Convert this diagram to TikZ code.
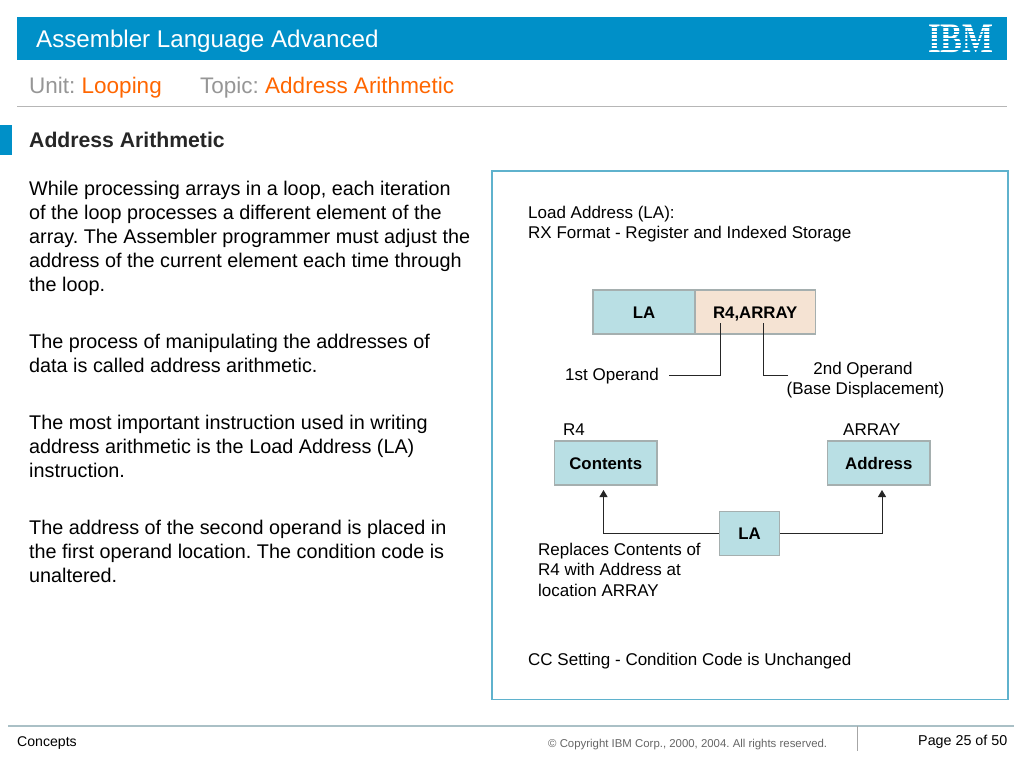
\documentclass[tikz,border=0pt]{standalone}
\usepackage{fontspec}
\usepackage{xcolor}
\usepackage{tikz}
\usetikzlibrary{backgrounds}
\usetikzlibrary{arrows.meta}
\setmainfont{Liberation Sans}
\newfontfamily\logofont{Liberation Serif}
\AtBeginDocument{\frenchspacing}
\pgfdeclarelayer{edgelayer}
\pgfdeclarelayer{nodelayer}
\pgfsetlayers{background,nodelayer,edgelayer,main}
\definecolor{barblue}{RGB}{0,144,200}
\definecolor{framec}{RGB}{95,178,205}
\definecolor{greyc}{RGB}{150,150,150}
\definecolor{orangec}{RGB}{255,102,0}
\definecolor{boxblue}{RGB}{185,223,228}
\definecolor{boxtan}{RGB}{245,227,211}
\definecolor{boxline}{RGB}{165,175,175}
\definecolor{footc}{RGB}{170,192,198}
\tikzstyle{none}=[inner sep=0mm]
\tikzstyle{slidetext}=[inner sep=0mm,anchor=base west,text=black]
\tikzstyle{bodytext}=[slidetext,anchor=north west,align=left,font=\fontsize{19.8}{24}\selectfont]
\tikzstyle{small}=[slidetext,align=left,font=\fontsize{17}{20.3}\selectfont,text=black]
\tikzstyle{smallblock}=[small,anchor=north west]
\tikzstyle{cn}=[draw=boxline,line width=1.2pt,fill=boxblue,minimum height=44pt,inner sep=0mm,text height=12pt,text depth=0pt,font=\fontsize{16.8}{19}\selectfont\bfseries,text=black]
\tikzstyle{tn}=[cn,fill=boxtan]
\tikzstyle{edge}=[line width=1pt,black!85]
\tikzstyle{diredge}=[edge,-{Triangle[length=7pt,width=8pt]}]
\begin{document}
\begin{tikzpicture}[x=1pt,y=-1pt]
	\useasboundingbox (0,0) rectangle (1024,768);
	\begin{pgfonlayer}{background}
		\fill [white] (0,0) rectangle (1024,768);
		\fill [barblue] (17,17) rectangle (1007,60);
		\fill [barblue] (0,125) rectangle (11.5,155);
		\draw [greyc!70, line width=1pt] (17,106.5) -- (1007,106.5);
		\draw [framec, line width=1.4pt] (491.8,171) rectangle (1008,699.5);
		\draw [footc, line width=1.5pt] (8,726) -- (1014,726);
		\draw [black!35, line width=1.5pt] (857.5,726) -- (857.5,751);
	\end{pgfonlayer}
	\begin{pgfonlayer}{nodelayer}
		\node [style=slidetext, text=white, font=\fontsize{24.15}{28}\selectfont] (0) at (36, 48) {Assembler Language Advanced};
		\node [style=slidetext, text=white, font=\fontsize{42}{42}\logofont\bfseries, anchor=base, xscale=0.78] (1) at (961, 52.5) {IBM};
		\node [style=slidetext, font=\fontsize{22.5}{27}\selectfont] (2) at (29, 93) {\textcolor{greyc}{Unit:} \textcolor{orangec}{Looping}};
		\node [style=slidetext, font=\fontsize{22.5}{27}\selectfont] (3) at (200, 93) {\textcolor{greyc}{Topic:} \textcolor{orangec}{Address Arithmetic}};
		\node [style=slidetext, text=black!85, font=\fontsize{21.2}{25}\selectfont\bfseries] (4) at (29, 147) {Address Arithmetic};
		\node [style=bodytext] (5) at (29, 181) {While processing arrays in a loop, each iteration\\of the loop processes a different element of the\\array. The Assembler programmer must adjust the\\address of the current element each time through\\the loop.};
		\node [style=bodytext] (6) at (29, 334) {The process of manipulating the addresses of\\data is called address arithmetic.};
		\node [style=bodytext] (7) at (29, 415) {The most important instruction used in writing\\address arithmetic is the Load Address (LA)\\instruction.};
		\node [style=bodytext] (8) at (29, 520) {The address of the second operand is placed in\\the first operand location. The condition code is\\unaltered.};
		\node [style=smallblock] (9) at (528, 206) {Load Address (LA):\\RX Format - Register and Indexed Storage};
		\node [style=cn, minimum width=102pt] (10) at (644, 312) {LA};
		\node [style=tn, minimum width=120.5pt] (11) at (755.25, 312) {R4,ARRAY};
		\node [style=small] (12) at (565, 380) {1st Operand};
		\node [style=small, anchor=north, align=center] (13) at (865.5, 362) {2nd Operand\hspace*{5pt}\\(Base Displacement)};
		\node [style=small] (14) at (563, 435) {R4};
		\node [style=small] (15) at (843, 435) {ARRAY};
		\node [style=cn, minimum width=102.5pt] (16) at (605.75, 463) {Contents};
		\node [style=cn, minimum width=102.5pt] (17) at (878.75, 463) {Address};
		\node [style=cn, minimum width=60pt] (18) at (749.5, 533.5) {LA};
		\node [style=smallblock] (19) at (538, 543) {Replaces Contents of\\R4 with Address at\\location ARRAY};
		\node [style=small] (20) at (528, 665) {CC Setting - Condition Code is Unchanged};
		\node [style=slidetext, text=black, font=\fontsize{14.1}{16}\selectfont] (21) at (17, 746) {Concepts};
		\node [style=slidetext, text=black!60, font=\fontsize{11.4}{13}\selectfont] (22) at (548, 747) {© Copyright IBM Corp., 2000, 2004. All rights reserved.};
		\node [style=slidetext, text=black, font=\fontsize{14.3}{16}\selectfont] (23) at (918, 745) {Page 25 of 50};
		\node [style=none] (24) at (720.5, 323) {};
		\node [style=none] (25) at (669, 375) {};
		\node [style=none] (26) at (763.5, 323) {};
		\node [style=none] (27) at (788, 375) {};
		\node [style=none] (28) at (603.5, 490) {};
		\node [style=none] (29) at (882, 490) {};
	\end{pgfonlayer}
	\begin{pgfonlayer}{edgelayer}
		\draw [style=edge] (25.center) -| (24.center);
		\draw [style=edge] (27.center) -| (26.center);
		\draw [style=diredge] (18) -| (28.center);
		\draw [style=diredge] (18) -| (29.center);
		% stripes of the logo
		\foreach \i in {0,...,6} {
			\fill [barblue] (925, 27.2+\i*3.55) rectangle (997, 28.4+\i*3.55);
		}
	\end{pgfonlayer}
\end{tikzpicture}
\end{document}
